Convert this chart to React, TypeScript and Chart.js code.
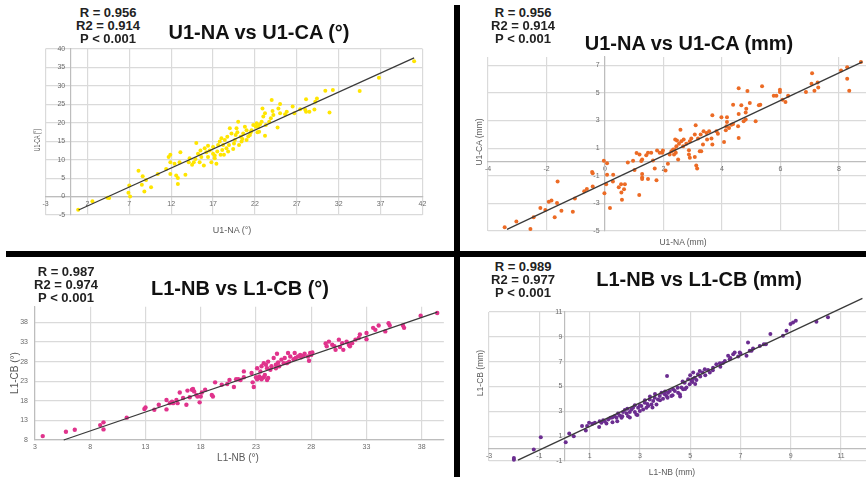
import React, { useEffect, useRef } from "react";
import { Chart, registerables } from "chart.js";

Chart.register(...registerables);

// ---------- U1-NA vs U1-CA (°) ----------
const u1NaDeg = [
  0.9, 2.6, 4.6, 4.4, 7.0, 6.9, 7.1, 8.1, 8.6, 8.5, 9.0, 8.8, 9.6, 10.4, 11.7, 11.9, 11.9, 11.4, 11.9, 12.4,
  12.6, 12.8, 12.8, 13.0, 13.1, 13.7, 14.2, 14.1, 14.5, 14.7, 14.9, 15.0, 15.2, 15.4, 15.5, 15.6, 15.9, 16.0,
  16.2, 16.4, 16.4, 16.6, 16.8, 17.0, 17.0, 17.2, 17.2, 17.4, 17.5, 17.6,
  41.0, 36.8, 34.5, 31.3, 30.4, 30.9, 29.4, 29.2, 29.1, 28.5, 28.1, 28.0, 28.1, 27.4, 26.5, 26.7, 25.8, 25.6,
  25.0, 25.0, 24.8, 24.7, 24.0, 24.1, 24.2, 23.9, 23.7, 23.2, 22.9, 23.0, 23.2, 23.3, 22.8, 22.6, 22.4, 22.1,
  22.2, 22.5, 22.3, 21.8, 21.6, 21.4, 21.5, 21.2, 21.0, 21.0, 20.8, 20.6, 20.5, 20.4, 20.3, 20.1, 20.0, 19.9,
  19.8, 19.7, 19.6, 19.4, 19.5, 19.2, 19.0, 18.9, 18.8, 18.7, 18.6, 18.4, 18.3, 18.2, 18.1, 18.0, 17.9, 17.8,
];
const u1CaDeg = [
  -3.6, -1.3, -0.4, -0.3, 3.0, 1.0, 0.0, 7.0, 5.5, 3.2, 4.5, 1.4, 2.5, 6.1, 10.7, 11.3, 9.3, 7.5, 6.1, 8.9,
  5.7, 5.0, 3.4, 9.3, 12.0, 5.9, 10.4, 9.3, 8.6, 9.3, 10.2, 14.5, 11.6, 9.3, 12.5, 10.7, 8.4, 13.1,
  12.0, 10.7, 13.8, 12.5, 9.3, 13.4, 11.6, 11.1, 10.4, 8.9, 12.2, 14.0,
  36.7, 32.2, 28.6, 28.9, 28.7, 22.8, 26.6, 25.7, 23.6, 23.0, 23.0, 23.5, 26.4, 23.7, 24.4, 22.6, 23.0, 22.3,
  22.6, 25.1, 23.9, 18.7, 26.2, 23.2, 22.1, 21.2, 20.3, 22.6, 23.9, 21.7, 16.5, 19.4, 20.3, 19.6, 18.9, 18.9,
  19.9, 17.6, 17.4, 19.4, 18.0, 16.7, 17.4, 16.3, 15.3, 18.0, 18.9, 17.1, 15.6, 14.9, 16.2, 14.0, 20.3, 17.4,
  18.5, 16.7, 15.3, 12.9, 14.4, 17.1, 18.5, 14.0, 12.2, 16.2, 13.1, 15.3, 11.3, 14.0, 12.6, 15.8, 11.3, 14.9,
];
const u1DegTicksX = [-3, 2, 7, 12, 17, 22, 27, 32, 37, 42];
const u1DegTicksY = [-5, 0, 5, 10, 15, 20, 25, 30, 35, 40];
const u1DegFitX = [0.95, 41.0];
const u1DegFitY = [-3.65, 37.6];

// ---------- U1-NA vs U1-CA (mm) ----------
const u1NaMm = [
  -3.43, -3.03, -2.55, -2.44, -2.21, -2.04, -1.92, -1.83, -1.72, -1.64, -1.62, -1.49, -1.1, -1.03, -0.71, -0.62,
  -0.42, -0.44, -0.42, -0.04, 0.07, -0.02, 0.04, 0.17, 0.07, 0.27, 0.28, 0.47, 0.55, 0.56, 0.58, 0.68, 0.65,
  0.78, 0.96, 1.01, 1.08, 1.17, 1.27, 1.27, 1.27, 1.47, 1.76,
  8.75, 8.28, 8.07, 8.28, 8.35, 7.08, 7.06, 7.27, 7.29, 7.16, 6.87, 6.26, 6.17, 6.07, 5.98, 5.98, 5.86, 5.77,
  5.37, 5.31, 5.26, 5.15, 4.95, 4.87, 4.83, 4.81, 4.81, 4.74, 4.66, 4.57, 4.57, 4.55, 4.57, 4.38, 4.38, 4.32,
  4.24, 4.17, 4.17, 4.15, 4.13, 4.07, 3.98, 3.86, 3.81, 3.67, 3.64, 3.67, 3.56, 3.47, 3.49, 3.37, 3.35, 3.27,
  3.18, 3.1, 3.07, 3.12, 3.15, 3.07, 3.24, 3.29, 2.95, 2.9, 2.87, 2.87, 2.9, 2.78, 2.69, 2.67, 2.61, 2.58,
  2.53, 2.46, 2.44, 2.4, 2.38, 2.42, 2.36, 2.5, 2.33, 2.27, 2.21, 2.15, 2.07, 1.98, 1.96, 1.87, 1.78, 1.7,
  1.64, 1.58, 1.47, 1.41, 1.27, 1.24, 1.18,
];
const u1CaMm = [
  -4.73, -4.32, -4.85, -4.01, -3.34, -3.48, -2.88, -2.8, -4.01, -2.97, -1.41, -3.53, -3.6, -2.64, -2.13, -1.96,
  -1.77, -0.72, -0.81, 0.08, -0.09, -2.26, -1.61, -3.34, -0.93, -1.42, -0.93, -1.84, -1.61, -2.21, -2.74, -1.61, -1.97,
  -0.04, 0.08, -0.59, 0.64, -2.4, -0.88, -1.12, -1.24, -1.24, -1.32,
  7.23, 6.86, 6.62, 6.02, 5.16, 6.43, 5.66, 5.76, 5.4, 5.16, 5.06, 4.8, 4.34, 4.51, 5.23, 5.06, 4.8, 4.8,
  5.49, 4.14, 4.1, 2.94, 4.27, 5.13, 3.86, 3.59, 3.07, 2.94, 4.1, 5.33, 3.47, 2.58, 1.74, 4.15, 2.75, 2.7,
  2.46, 3.23, 2.89, 2.58, 2.29, 1.45, 3.23, 2.05, 2.22, 3.38, 1.69, 1.26, 2.22, 2.1, 1.62, 2.22, 1.26, 1.98,
  1.69, 2.65, 1.98, -0.26, -0.48, 0.35, 0.78, 0.78, 1.69, 1.5, 0.85, 0.54, 0.3, 1.31, 1.62, 1.14, 1.5, 2.34,
  1.31, 1.55, 1.14, 1.62, 0.9, 0.66, 0.54, 0.18, 0.9, 0.78, 0.54, -0.13, -0.62, 0.83, 0.66, 0.66, 0.83, -0.48,
  0.11, 0.66, 0.66, 0.49, 0.18, 0.06, 0.54,
];
const u1MmTicksX = [-4, -2, 0, 2, 4, 6, 8];
const u1MmTicksY = [-5, -3, -1, 1, 3, 5, 7];
const u1MmFitX = [-3.35, 8.8];
const u1MmFitY = [-4.88, 7.25];

// ---------- L1-NB vs L1-CB (°) ----------
const l1NbDeg = [
  3.7, 5.8, 6.6, 8.9, 9.2, 9.2, 11.3, 12.9, 13.0, 13.8, 14.2, 14.9, 14.9, 15.2, 15.4, 15.5, 15.8, 15.9, 16.1,
  16.4, 16.7, 16.8, 17.0, 17.2, 17.3, 17.4, 17.6, 17.7, 17.9, 18.0, 18.1, 18.4, 19.0, 19.1, 19.3, 19.9, 20.4,
  20.6, 21.0, 21.2, 21.4, 21.6, 21.9, 21.9, 22.6, 22.7, 22.8,
  23.0, 23.1, 23.3, 23.4, 23.5, 23.7, 23.8, 24.0, 24.1, 23.1, 23.4, 23.5, 23.7, 23.9, 24.0, 24.1,
  24.3, 24.4, 24.6, 24.8, 24.8, 24.9, 25.0, 25.1, 25.3, 25.5, 25.6, 25.8, 25.9, 26.0, 26.1, 26.4, 26.5, 26.6,
  26.8, 27.0, 27.1, 27.3, 27.4, 27.7, 27.9, 28.0, 28.1, 27.8,
  29.3, 29.4, 29.6, 29.9, 30.1, 30.2, 30.5, 30.6, 30.8, 30.9, 31.2, 31.4, 31.5, 31.7, 32.0, 32.3, 32.4, 33.0,
  33.0, 33.6, 33.8, 34.1, 34.7, 35.0, 35.1, 36.3, 36.4, 37.9, 39.4,
];
const l1CbDeg = [
  9.0, 10.1, 10.6, 11.8, 12.5, 10.7, 13.7, 15.9, 16.3, 15.7, 17.0, 15.8, 18.2, 17.4, 17.8, 17.4, 18.2, 17.4, 20.1,
  18.7, 17.0, 20.6, 18.9, 20.8, 21.0, 20.4, 19.5, 19.1, 17.6, 19.1, 20.1, 20.8, 19.5, 19.1, 22.7, 22.1, 22.3,
  23.3, 21.5, 23.5, 23.5, 23.3, 24.0, 25.5, 25.1, 22.7, 21.5,
  24.0, 23.5, 24.2, 23.8, 23.5, 24.0, 24.6, 23.3, 23.8, 26.3, 25.5, 26.8, 27.6, 27.2, 26.3, 28.0,
  25.9, 26.8, 28.9, 26.3, 27.2, 30.0, 27.8, 26.8, 28.5, 27.6, 28.9, 27.6, 30.2, 28.0, 29.3, 28.6, 30.2, 28.9,
  29.3, 29.7, 29.1, 29.5, 30.0, 29.3, 30.2, 29.7, 30.3, 28.2,
  32.6, 31.9, 33.1, 32.3, 31.9, 31.0, 33.6, 31.7, 32.7, 31.0, 33.1, 32.3, 31.9, 32.7, 33.6, 34.0, 34.9, 33.7,
  35.3, 36.6, 36.1, 37.2, 35.7, 37.8, 37.2, 37.2, 36.6, 39.7, 40.4,
];
const l1DegTicksX = [3, 8, 13, 18, 23, 28, 33, 38];
const l1DegTicksY = [8, 13, 18, 23, 28, 33, 38];
const l1DegFitX = [5.6, 39.4];
const l1DegFitY = [8.0, 40.6];

// ---------- L1-NB vs L1-CB (mm) ----------
const l1NbMm = [
  -2.01, -2.01, -1.22, -0.94, 0.05, 0.19, 0.37, 0.7, 0.85, 0.9, 0.98, 1.11, 1.21, 1.38, 1.4, 1.47, 1.54, 1.6, 1.67,
  1.74, 1.83, 1.91, 2.0, 2.07, 2.13, 2.2, 2.27, 2.33, 2.4, 2.47, 2.53, 2.6, 2.66, 2.73, 2.8, 2.86, 2.93, 3.0,
  3.06, 3.13, 3.19, 3.26, 3.33, 3.39, 3.46, 3.53, 3.59, 3.66, 3.72, 3.79, 3.86, 3.92, 3.99, 4.06, 4.12, 4.19,
  4.25, 4.32, 4.39, 4.08, 4.52, 4.59, 4.65, 4.72, 4.78, 4.85, 4.92, 4.98, 5.05, 5.09, 5.12, 5.18, 5.25, 5.31,
  5.38, 5.49, 5.58, 5.71, 5.78, 5.91, 6.04, 6.18, 6.38, 6.51, 6.57, 6.71, 6.77, 6.91, 6.97, 7.0, 7.24, 7.3,
  7.37, 7.44, 7.5, 7.77, 7.93, 8.01, 8.19, 8.69, 8.83, 8.99, 9.09, 9.2, 10.02, 10.48, 11.81,
  2.1, 2.3, 2.5, 2.6, 2.9, 3.0, 3.2, 3.3, 3.5, 3.6, 3.8, 4.0, 4.1, 4.3, 4.5, 4.6, 4.8, 5.0, 5.1, 5.2, 5.4,
  5.6, 5.9, 6.2, 6.3, 6.6, 4.7, 3.4, 2.8, 1.9,
];
const l1CbMm = [
  -0.75, -0.89, -0.08, 0.92, 0.51, 1.21, 1.0, 1.81, 1.46, 1.81, 2.08, 1.99, 2.08, 1.73, 2.21, 2.08, 2.29, 2.21, 2.02,
  2.35, 2.48, 2.13, 2.61, 2.48, 2.83, 2.67, 2.48, 2.94, 3.1, 2.83, 2.61, 2.94, 3.15, 3.29, 2.94, 2.75, 3.29, 3.02,
  3.42, 3.15, 3.69, 3.29, 3.42, 3.96, 3.56, 3.83, 4.1, 3.56, 3.96, 4.23, 4.5, 4.02, 4.37, 4.23, 4.5, 4.64,
  4.23, 4.77, 4.64, 5.85, 4.5, 4.37, 4.91, 4.77, 5.31, 4.91, 5.58, 5.18, 5.44, 5.36, 6.12, 5.71, 5.53, 5.98,
  6.25, 6.12, 6.39, 6.33, 6.12, 6.52, 6.79, 6.87, 7.06, 7.47, 7.2, 7.6, 7.74, 7.41, 7.74, 7.65, 7.47, 8.54,
  7.87, 7.87, 8.06, 8.27, 8.41, 8.41, 9.22, 9.08, 9.49, 10.03, 10.16, 10.3, 10.22, 10.57, 12.05,
  2.2, 2.6, 3.2, 2.5, 2.7, 3.5, 3.9, 3.6, 3.3, 4.4, 3.9, 4.6, 4.1, 4.3, 4.9, 4.2, 4.8, 5.9, 5.6, 5.2, 5.8,
  5.9, 6.3, 6.6, 6.9, 7.3, 5.4, 4.2, 3.5, 2.5,
];
const l1MmTicksX = [-3, -1, 1, 3, 5, 7, 9, 11];
const l1MmTicksY = [-1, 1, 3, 5, 7, 9, 11];
const l1MmFitX = [-1.85, 11.85];
const l1MmFitY = [-0.93, 12.1];

const SANS = '"Liberation Sans", Arial, Helvetica, sans-serif';
const GRID = "#dadada";
const AXIS = "#bdbdbd";
const TICK = "#6b6b6b";

type Box = { left: number; top: number; width: number; height: number };
type Pad = { left: number; right: number; top: number; bottom: number };

type PanelProps = {
  box: Box;
  pad: Pad;
  xs: number[];
  ys: number[];
  fitX: number[];
  fitY: number[];
  color: string;
  radius: number;
  xMin: number;
  xMax: number;
  yMin: number;
  yMax: number;
  xTicks: number[];
  yTicks: number[];
  crossX: number;
  crossY: number;
  // trailing whitespace that keeps y labels clear of a crossing axis line
  yLabelGap: string;
};

function ScatterPanel(p: PanelProps) {
  const ref = useRef<HTMLCanvasElement | null>(null);
  useEffect(() => {
    if (!ref.current) return;
    const chart = new Chart(ref.current, {
      type: "scatter",
      data: {
        datasets: [
          {
            type: "line",
            data: p.fitX.map((x, i) => ({ x, y: p.fitY[i] })),
            borderColor: "#3a3a3a",
            borderWidth: 1.3,
            pointRadius: 0,
            fill: false,
            tension: 0,
            clip: false,
          } as any,
          {
            data: p.xs.map((x, i) => ({ x, y: p.ys[i] })),
            backgroundColor: p.color,
            borderWidth: 0,
            pointRadius: p.radius,
            clip: false,
          },
        ],
      },
      options: {
        responsive: false,
        animation: false,
        events: [],
        layout: { padding: p.pad },
        plugins: {
          legend: { display: false },
          tooltip: { enabled: false },
        },
        scales: {
          x: {
            type: "linear",
            position: { y: p.crossY } as any,
            min: p.xMin,
            max: p.xMax,
            afterBuildTicks: (s: any) => {
              s.ticks = p.xTicks.map((v) => ({ value: v }));
            },
            grid: { color: GRID, lineWidth: 1.2, drawTicks: false },
            border: { color: AXIS, width: 1.2 },
            ticks: {
              autoSkip: false,
              maxRotation: 0,
              padding: 3,
              color: TICK,
              font: { size: 7, family: SANS },
            },
          },
          y: {
            type: "linear",
            position: { x: p.crossX } as any,
            min: p.yMin,
            max: p.yMax,
            afterBuildTicks: (s: any) => {
              s.ticks = p.yTicks.map((v) => ({ value: v }));
            },
            grid: { color: GRID, lineWidth: 1.2, drawTicks: false },
            border: { color: AXIS, width: 1.2 },
            ticks: {
              autoSkip: false,
              padding: 0,
              color: TICK,
              font: { size: 7, family: SANS },
              callback: (v: any) => `${v}${p.yLabelGap}`,
            },
          },
        },
      },
    });
    return () => chart.destroy();
  }, []);
  return (
    <canvas
      ref={ref}
      width={p.box.width}
      height={p.box.height}
      style={{
        position: "absolute",
        left: p.box.left,
        top: p.box.top,
        width: p.box.width,
        height: p.box.height,
      }}
    />
  );
}

function Label(props: {
  x: number;
  y: number;
  text: string;
  size: number;
  bold?: boolean;
  color?: string;
  rotate?: boolean;
  stretch?: number;
}) {
  const t = `translate(-50%, -50%)${props.rotate ? " rotate(-90deg)" : ""}${
    props.stretch ? ` scaleX(${props.stretch})` : ""
  }`;
  return (
    <div
      style={{
        position: "absolute",
        left: props.x,
        top: props.y,
        transform: t,
        whiteSpace: "nowrap",
        fontFamily: SANS,
        fontSize: props.size,
        fontWeight: props.bold ? 700 : 400,
        color: props.color || "#1a1a1a",
        lineHeight: 1,
      }}
    >
      {props.text}
    </div>
  );
}

function Stats(props: { x: number; y: number; lines: string[] }) {
  return (
    <>
      {props.lines.map((l, i) => (
        <Label key={i} x={props.x} y={props.y + i * 13} text={l} size={13} bold color="#222" />
      ))}
    </>
  );
}

export default function App() {
  return (
    <div
      style={{
        position: "absolute",
        left: 0,
        top: 0,
        width: 866,
        height: 477,
        overflow: "hidden",
        background: "#ffffff",
      }}
    >
      <ScatterPanel
        box={{ left: 20, top: 40, width: 415, height: 185 }}
        pad={{ left: 25.5, right: 12.5, top: 9, bottom: 10 }}
        xs={u1NaDeg}
        ys={u1CaDeg}
        fitX={u1DegFitX}
        fitY={u1DegFitY}
        color="#ffe500"
        radius={2}
        xMin={-3}
        xMax={42}
        yMin={-5}
        yMax={40}
        xTicks={u1DegTicksX}
        yTicks={u1DegTicksY}
        crossX={0}
        crossY={0}
        yLabelGap={"\u2002 "}
      />
      <ScatterPanel
        box={{ left: 462, top: 45, width: 430, height: 195 }}
        pad={{ left: 26, right: 6.2, top: 12, bottom: 9 }}
        xs={u1NaMm}
        ys={u1CaMm}
        fitX={u1MmFitX}
        fitY={u1MmFitY}
        color="#ec6b25"
        radius={2}
        xMin={-4}
        xMax={9.6}
        yMin={-5}
        yMax={7.6}
        xTicks={u1MmTicksX}
        yTicks={u1MmTicksY}
        crossX={0}
        crossY={0}
        yLabelGap={"\u2002 "}
      />
      <ScatterPanel
        box={{ left: 0, top: 262, width: 453, height: 200 }}
        pad={{ left: 35, right: 9.15, top: 44.7, bottom: 22 }}
        xs={l1NbDeg}
        ys={l1CbDeg}
        fitX={l1DegFitX}
        fitY={l1DegFitY}
        color="#e0338c"
        radius={2.2}
        xMin={3}
        xMax={40}
        yMin={8}
        yMax={42}
        xTicks={l1DegTicksX}
        yTicks={l1DegTicksY}
        crossX={3}
        crossY={8}
        yLabelGap={"\u2003"}
      />
      <ScatterPanel
        box={{ left: 462, top: 290, width: 430, height: 180 }}
        pad={{ left: 27, right: 10.7, top: 22, bottom: 9 }}
        xs={l1NbMm}
        ys={l1CbMm}
        fitX={l1MmFitX}
        fitY={l1MmFitY}
        color="#6b2d90"
        radius={2}
        xMin={-3}
        xMax={12.6}
        yMin={-1}
        yMax={11}
        xTicks={l1MmTicksX}
        yTicks={l1MmTicksY}
        crossX={0}
        crossY={0}
        yLabelGap={" "}
      />

      {/* panel titles and statistics */}
      <Stats x={108} y={12} lines={["R = 0.956", "R2 = 0.914", "P < 0.001"]} />
      <Label x={259} y={32} text="U1-NA vs U1-CA (°)" size={20} bold color="#111" />
      <Stats x={523} y={12} lines={["R = 0.956", "R2 = 0.914", "P < 0.001"]} />
      <Label x={689} y={43} text="U1-NA vs U1-CA (mm)" size={20} bold color="#111" />
      <Stats x={66} y={271} lines={["R = 0.987", "R2 = 0.974", "P < 0.001"]} />
      <Label x={240} y={288} text="L1-NB vs L1-CB (°)" size={20} bold color="#111" />
      <Stats x={523} y={266} lines={["R = 0.989", "R2 = 0.977", "P < 0.001"]} />
      <Label x={699} y={279} text="L1-NB vs L1-CB (mm)" size={20} bold color="#111" />

      {/* axis titles */}
      <Label x={232} y={230} text="U1-NA (°)" size={9} color="#595959" />
      <Label x={37} y={140} text="U1-CA (°)" size={9} color="#595959" rotate stretch={0.58} />
      <Label x={683} y={242} text="U1-NA (mm)" size={8.5} color="#595959" />
      <Label x={479} y={142} text="U1-CA (mm)" size={8.5} color="#595959" rotate />
      <Label x={238} y={458} text="L1-NB (°)" size={10} color="#595959" />
      <Label x={15} y={373} text="L1-CB (°)" size={10} color="#595959" rotate />
      <Label x={672} y={472} text="L1-NB (mm)" size={8.5} color="#595959" />
      <Label x={480} y={373} text="L1-CB (mm)" size={8.5} color="#595959" rotate />

      {/* dividers */}
      <div style={{ position: "absolute", left: 454, top: 5, width: 6, height: 472, background: "#000" }} />
      <div style={{ position: "absolute", left: 6, top: 251, width: 860, height: 6, background: "#000" }} />
    </div>
  );
}
